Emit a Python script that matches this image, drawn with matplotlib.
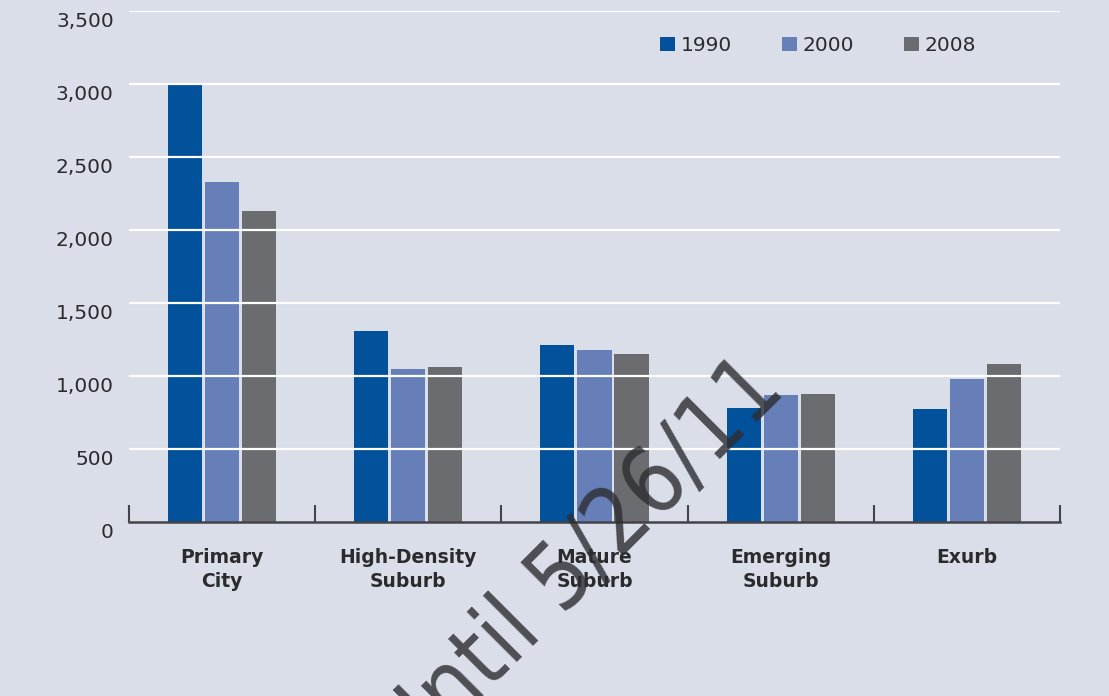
import matplotlib
matplotlib.use('Agg')
import matplotlib.pyplot as plt
import matplotlib.transforms as mtransforms
from matplotlib.patches import Patch
import numpy as np

# household counts by community type (thousands)
categories = ['Primary\nCity', 'High-Density\nSuburb', 'Mature\nSuburb', 'Emerging\nSuburb', 'Exurb']
years = ['1990', '2000', '2008']
vals_1990 = [3000, 1310, 1210, 780, 775]
vals_2000 = [2330, 1050, 1180, 870, 980]
vals_2008 = [2130, 1060, 1150, 875, 1080]
yticks = [0, 500, 1000, 1500, 2000, 2500, 3000, 3500]

bg = '#d9dee9'
colors = ['#02519b', '#667fb8', '#6b6c70']
text_col = '#2b2b2e'

fig = plt.figure(figsize=(11.09, 6.96), dpi=100, facecolor=bg)
ax = fig.add_axes([0.1163, 0.25, 0.8395, 0.7342], facecolor=bg)

x = np.arange(len(categories))
bw = 0.183
step = 0.199
for i, (vals, col) in enumerate(zip([vals_1990, vals_2000, vals_2008], colors)):
    ax.bar(x + (i - 1) * step, vals, width=bw, color=col, zorder=1)

# white gridlines on top of the bars
for y in yticks[1:]:
    ax.axhline(y, color='white', lw=1.6, zorder=2)

ax.set_xlim(-0.5, len(categories) - 0.5)
ax.set_ylim(0, 3500)
ax.set_yticks(yticks)
ax.set_yticklabels([f'{v:,}' for v in yticks], fontsize=14.5, color=text_col)
ax.tick_params(axis='y', length=0, pad=11)
offset = mtransforms.ScaledTranslation(0, -9 / 100, fig.dpi_scale_trans)
for lbl in ax.get_yticklabels():
    lbl.set_transform(lbl.get_transform() + offset)

ax.set_xticks(x)
ax.set_xticklabels(categories, fontsize=13.5, fontweight='bold', color=text_col, linespacing=1.3)
ax.tick_params(axis='x', length=0, pad=19)
ax.set_xticks(np.arange(-0.5, len(categories)), minor=True)
ax.tick_params(axis='x', which='minor', direction='in', length=12, width=1.5, color='#444448')

for s in ['top', 'right', 'left']:
    ax.spines[s].set_visible(False)
ax.spines['bottom'].set_color('#444448')
ax.spines['bottom'].set_linewidth(1.8)
ax.spines['bottom'].set_zorder(3)

handles = [Patch(facecolor=c, edgecolor='none') for c in colors]
ax.legend(handles, years, ncol=3, frameon=False, loc='upper left',
          bbox_to_anchor=(652 / 1109, 1 - 28 / 696), bbox_transform=fig.transFigure,
          fontsize=14.5, handlelength=0.75, handleheight=0.75, handletextpad=0.3,
          columnspacing=2.45, labelcolor=text_col, borderaxespad=0)

# diagonal stamp across the chart
fig.text(580 / 1109, 1 - 562 / 696, 'Until 5/26/11', fontsize=66, rotation=45,
         family='DejaVu Sans', fontstretch='condensed',
         rotation_mode='anchor', ha='center', va='center', color='#2e2f33',
         alpha=0.82, zorder=5)

fig.savefig('out.png', dpi=100, facecolor=bg)
